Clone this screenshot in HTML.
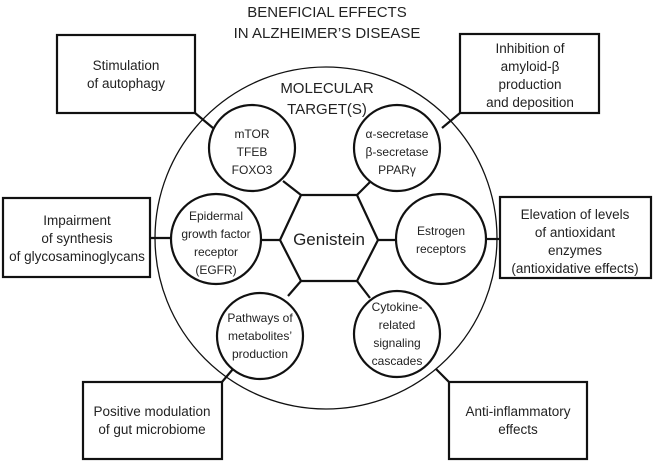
<!DOCTYPE html>
<html><head><meta charset="utf-8"><style>
html,body{margin:0;padding:0;background:#fff;}
svg text{font-family:"Liberation Sans",sans-serif;fill:#222;}
</style></head><body>
<svg width="653" height="461" viewBox="0 0 653 461" xmlns="http://www.w3.org/2000/svg">
<g fill="none" stroke="#111">
<circle cx="326" cy="238" r="171" stroke-width="1.3"/>
<g stroke-width="2.2">
<rect x="57" y="35" width="138" height="78"/>
<rect x="460" y="34" width="139" height="79"/>
<rect x="3" y="198" width="147" height="79"/>
<rect x="500" y="197" width="151" height="81"/>
<rect x="83" y="382" width="139" height="77"/>
<rect x="449" y="382" width="138" height="77"/>
<circle cx="252" cy="148" r="43"/>
<circle cx="397" cy="148" r="43"/>
<circle cx="216" cy="239" r="45"/>
<circle cx="441" cy="239" r="45"/>
<circle cx="260" cy="336" r="43"/>
<circle cx="397" cy="334" r="43"/>
<polygon points="301,195 357,195 378,240 357,281 301,281 280,240"/>
<line x1="195" y1="113" x2="213" y2="128"/>
<line x1="460" y1="113" x2="442" y2="128"/>
<line x1="150" y1="238" x2="171" y2="238"/>
<line x1="486" y1="239" x2="500" y2="239"/>
<line x1="222" y1="382" x2="233" y2="369"/>
<line x1="449" y1="382" x2="436" y2="369"/>
<line x1="301" y1="195" x2="283" y2="181"/>
<line x1="357" y1="195" x2="371" y2="181"/>
<line x1="280" y1="240" x2="261" y2="240"/>
<line x1="378" y1="240" x2="396" y2="240"/>
<line x1="301" y1="281" x2="288" y2="296"/>
<line x1="357" y1="281" x2="370" y2="298"/>
</g></g>
<g text-anchor="middle" font-size="13.5">
<text x="327" y="17" font-size="15">BENEFICIAL EFFECTS</text>
<text x="327" y="38" font-size="15">IN ALZHEIMER’S DISEASE</text>
<text x="327" y="93" font-size="15">MOLECULAR</text>
<text x="327" y="114" font-size="15">TARGET(S)</text>
<text x="126" y="70">Stimulation</text>
<text x="126" y="88">of autophagy</text>
<text x="530" y="53">Inhibition of</text>
<text x="530" y="71">amyloid-β</text>
<text x="530" y="89">production</text>
<text x="530" y="107">and deposition</text>
<text x="77" y="225">Impairment</text>
<text x="77" y="243">of synthesis</text>
<text x="77" y="261">of glycosaminoglycans</text>
<text x="575" y="219">Elevation of levels</text>
<text x="575" y="237">of antioxidant</text>
<text x="575" y="255">enzymes</text>
<text x="575" y="273">(antioxidative effects)</text>
<text x="152" y="416">Positive modulation</text>
<text x="152" y="434">of gut microbiome</text>
<text x="518" y="416">Anti-inflammatory</text>
<text x="518" y="434">effects</text>
<g font-size="12">
<text x="252" y="138">mTOR</text>
<text x="252" y="156">TFEB</text>
<text x="252" y="174">FOXO3</text>
<text x="397" y="138">α-secretase</text>
<text x="397" y="156">β-secretase</text>
<text x="397" y="174">PPARγ</text>
<text x="216" y="220">Epidermal</text>
<text x="216" y="238">growth factor</text>
<text x="216" y="256">receptor</text>
<text x="216" y="274">(EGFR)</text>
<text x="441" y="235">Estrogen</text>
<text x="441" y="253">receptors</text>
<text x="260" y="322">Pathways of</text>
<text x="260" y="340">metabolites’</text>
<text x="260" y="358">production</text>
<text x="397" y="311">Cytokine-</text>
<text x="397" y="329">related</text>
<text x="397" y="347">signaling</text>
<text x="397" y="365">cascades</text>
</g>
<text x="329" y="245" font-size="17">Genistein</text>
</g>
</svg>
</body></html>
